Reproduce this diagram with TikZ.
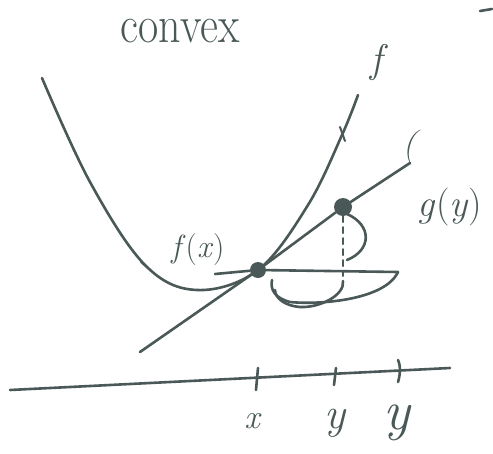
\documentclass[tikz,border=0pt]{standalone}
\usepackage{tikz}
\usetikzlibrary{calc}
\definecolor{ink}{HTML}{4A5858}

\begin{document}
\begin{tikzpicture}[
  x=1pt, y=-1pt,
  pen/.style={draw=ink, line width=2.6pt, line cap=round, line join=round},
  hand/.style={text=ink, inner sep=0pt},
  dot/.style={circle, fill=ink, inner sep=0pt, minimum size=16pt}
]
\useasboundingbox (0,0) rectangle (493,453);

% title and the stray mark at the edge
\node[hand, font=\fontsize{44}{44}\selectfont, yscale=1.2] (title) at (180,31) {convex};
\coordinate (mA) at (480,11);
\coordinate (mB) at (492,9);
\draw[pen] (mA) -- (mB);

% the convex function
\draw[pen] plot[smooth, tension=0.6] coordinates {(42,78) (90,182) (145,265) (197,290) (258,270) (308,205) (342,135) (358,95)};
\draw[pen, line width=2pt] (141,262) -- (148,268);
\draw[pen, line width=2pt] (340,127) -- (345,141);
\node[hand, font=\fontsize{40}{40}\selectfont\itshape] (flab) at (376,62) {f};

% the line through the two points
\node[dot] (px) at (258,270) {};
\node[dot, minimum size=18pt] (py) at (343,207) {};
\coordinate (lo) at (140,352);
\coordinate (hi) at (410,163);
\draw[pen] (lo) -- (px) -- (py) -- (hi);
\node[hand, font=\fontsize{36}{36}\selectfont, rotate=-15] (llab) at (412,146) {(};

\node[hand, font=\fontsize{32}{32}\selectfont] (fx) at (198,250) {\textit{f}(\textit{x})};
\node[hand, font=\fontsize{38}{38}\selectfont] (gy) at (450,207) {\textit{g}(\textit{y})};

% horizontal chord and the marks under it
\coordinate (hl) at (215,274);
\coordinate (hr) at (398,272);
\draw[pen] (hl) -- (px) -- (hr);
\draw[pen] (hr) .. controls (385,300) and (320,305) .. (290,302)
  .. controls (275,298) and (270,290) .. (272,280);
\draw[pen] (343,281) .. controls (345,295) and (320,308) .. (300,307)
  .. controls (285,306) and (275,298) .. (275,290);

% the drop from the upper point
\coordinate (foot) at (343,276);
\draw[pen, line width=2pt, dash pattern=on 6pt off 5pt] (py) -- (foot);
\draw[pen] (347,214) .. controls (372,225) and (372,250) .. (347,260);

% the axis and its marks
\coordinate (ax0) at (10,390);
\coordinate (ax1) at (450,368);
\draw[pen] (ax0) -- (ax1);
\coordinate (tx) at (257,379);
\coordinate (ty) at (335,376);
\coordinate (tY) at (398,372);
\draw[pen] ($(tx)+(1,-11)$) -- ($(tx)+(-1,11)$);
\draw[pen] ($(ty)+(1,-8)$) -- ($(ty)+(-1,9)$);
\draw[pen] ($(tY)+(0,-12)$) .. controls ($(tY)+(3,-6)$) and ($(tY)+(2,4)$) .. ($(tY)+(0,10)$);
\node[hand, font=\fontsize{34}{34}\selectfont\itshape] (xlab) at (252,421) {x};
\node[hand, font=\fontsize{44}{44}\selectfont\itshape] (ylab) at (335,423) {y};
\node[hand, font=\fontsize{56}{56}\selectfont\itshape] (Ylab) at (397,423) {y};
\end{tikzpicture}
\end{document}
